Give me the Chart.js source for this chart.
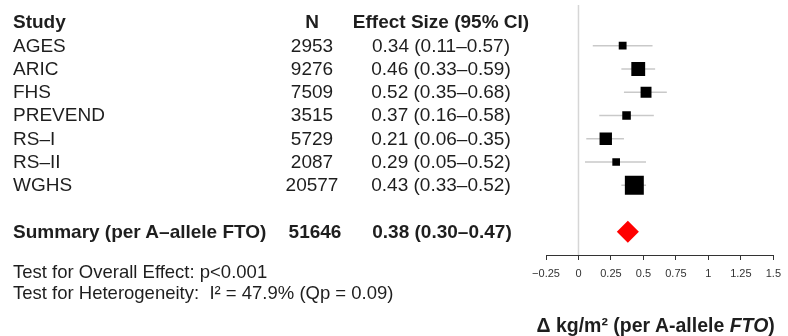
<!DOCTYPE html>
<html><head><meta charset="utf-8">
<script src="https://cdn.jsdelivr.net/npm/chart.js@4.4.1/dist/chart.umd.min.js"></script>
<style>
html,body{margin:0;padding:0;background:#fff;}
#wrap{position:relative;width:788px;height:336px;overflow:hidden;font-family:"Liberation Sans",Arial,sans-serif;color:#1e1e1e;}
#c{position:absolute;left:0;top:0;}
.t{position:absolute;white-space:nowrap;line-height:20px;height:20px;font-size:19px;}
.b{font-weight:bold;}
.c{transform:translateX(-50%);}
</style></head><body>
<div id="wrap"><canvas id="c" width="788" height="336"></canvas></div>
<script>
// ---- data ----
const studies   = ['AGES', 'ARIC', 'FHS', 'PREVEND', 'RS\u2013I', 'RS\u2013II', 'WGHS'];
const sampleN   = [2953, 9276, 7509, 3515, 5729, 2087, 20577];
const effect    = [0.34, 0.46, 0.52, 0.37, 0.21, 0.29, 0.43];
const ciLow     = [0.11, 0.33, 0.35, 0.16, 0.06, 0.05, 0.33];
const ciHigh    = [0.57, 0.59, 0.68, 0.58, 0.35, 0.52, 0.52];
const summaryLabel  = 'Summary (per A\u2013allele FTO)';
const summaryN      = 51646;
const summaryEffect = 0.38;
const summaryLow    = 0.30;
const summaryHigh   = 0.47;
const headers   = ['Study', 'N', 'Effect Size (95% CI)'];
const xTicks    = [-0.25, 0, 0.25, 0.5, 0.75, 1, 1.25, 1.5];
const xTickLabels = ['\u22120.25', '0', '0.25', '0.5', '0.75', '1', '1.25', '1.5'];
const testLines = ['Test for Overall Effect: p<0.001', 'Test for Heterogeneity:&nbsp; I\u00b2 = 47.9% (Qp = 0.09)'];
const axisTitle = '\u0394 kg/m\u00b2 (per A-allele <i>FTO</i>)';

// rows: header 0, studies 1..7, summary 9
const studyRows = studies.map((s, i) => i + 1);
const summaryRow = 9;

const datasets = [];
// squares (box side inversely proportional to CI width)
const boxR = effect.map((e, i) => (3.6 / (ciHigh[i] - ciLow[i])) / Math.SQRT2);
datasets.push({
  type: 'scatter', order: 0,
  data: effect.map((e, i) => ({x: e, y: studyRows[i]})),
  pointStyle: 'rect',
  backgroundColor: '#000', borderWidth: 0,
  pointRadius: boxR, pointHoverRadius: boxR
});
// summary diamond spanning the summary CI
const diamondR = (ctx) => {
  const x = ctx.chart.scales.x;
  return (x.getPixelForValue(summaryHigh) - x.getPixelForValue(summaryLow)) / 2;
};
datasets.push({
  type: 'scatter', order: 0,
  data: [{x: summaryEffect, y: summaryRow}],
  pointStyle: 'rectRot', backgroundColor: '#ff0000', borderWidth: 0,
  pointRadius: diamondR, pointHoverRadius: diamondR
});
// CI lines
effect.forEach((e, i) => {
  datasets.push({
    type: 'line', order: 1,
    data: [{x: ciLow[i], y: studyRows[i]}, {x: ciHigh[i], y: studyRows[i]}],
    borderColor: '#c9c9c9', borderWidth: 1.6, pointRadius: 0, fill: false
  });
});
// zero reference line
datasets.push({
  type: 'line', order: 2,
  data: [{x: 0, y: -0.75}, {x: 0, y: 10}],
  borderColor: '#d6d6d6', borderWidth: 1.5, pointRadius: 0, fill: false
});

const chart = new Chart(document.getElementById('c'), {
  type: 'scatter',
  data: {datasets},
  options: {
    responsive: false, animation: false, events: [],
    layout: {autoPadding: false, padding: {left: 546, right: 10, top: 5, bottom: 0}},
    plugins: {legend: {display: false}, tooltip: {enabled: false}},
    scales: {
      x: {
        type: 'linear', min: -0.25, max: 1.5,
        afterBuildTicks: (s) => { s.ticks = xTicks.map(v => ({value: v})); },
        afterFit: (s) => { s.height = 81; },
        grid: {display: true, drawOnChartArea: false, drawTicks: true, tickLength: 5, color: '#333', lineWidth: 1},
        border: {display: true, color: '#333', width: 1},
        ticks: {
          padding: 7, color: '#333', font: {family: 'Liberation Sans', size: 11},
          maxRotation: 0, autoSkip: false,
          callback: (v, i) => xTickLabels[i]
        }
      },
      y: {type: 'linear', reverse: true, min: -0.75, max: 10, display: false}
    }
  }
});

// ---- text columns placed on the chart's row scale ----
const wrap = document.getElementById('wrap');
const yS = chart.scales.y;
function addText(html, x, row, cls, center) {
  const d = document.createElement('div');
  d.className = 't ' + (cls || '') + (center ? ' c' : '');
  d.innerHTML = html;
  d.style.left = x + 'px';
  d.style.top = (yS.getPixelForValue(row) - 10) + 'px';
  wrap.appendChild(d);
  return d;
}
const colStudy = 13, colN = 312, colES = 441;
addText(headers[0], colStudy, 0, 'b');
addText(headers[1], colN, 0, 'b', true);
addText(headers[2], colES, 0, 'b', true);
studies.forEach((s, i) => {
  addText(s, colStudy, studyRows[i]);
  addText(String(sampleN[i]), colN, studyRows[i], '', true);
  addText(effect[i].toFixed(2) + ' (' + ciLow[i].toFixed(2) + '\u2013' + ciHigh[i].toFixed(2) + ')', colES, studyRows[i], '', true);
});
addText(summaryLabel, colStudy, summaryRow, 'b');
addText(String(summaryN), colN + 3, summaryRow, 'b', true);
addText(summaryEffect.toFixed(2) + ' (' + summaryLow.toFixed(2) + '\u2013' + summaryHigh.toFixed(2) + ')', colES + 1, summaryRow, 'b', true);

function addAbs(html, x, y, style, center) {
  const d = document.createElement('div');
  d.className = 't' + (center ? ' c' : '');
  d.innerHTML = html;
  d.style.left = x + 'px';
  d.style.top = (y - 10) + 'px';
  Object.assign(d.style, style || {});
  wrap.appendChild(d);
}
addAbs(testLines[0], 13, 271.5, {fontSize: '18.5px'});
addAbs(testLines[1], 13, 292.5, {fontSize: '18.5px'});
const xS = chart.scales.x;
addAbs(axisTitle, (xS.left + xS.right) / 2 - 4, 325, {fontWeight: 'bold', fontSize: '19.5px'}, true);
</script>
</body></html>
